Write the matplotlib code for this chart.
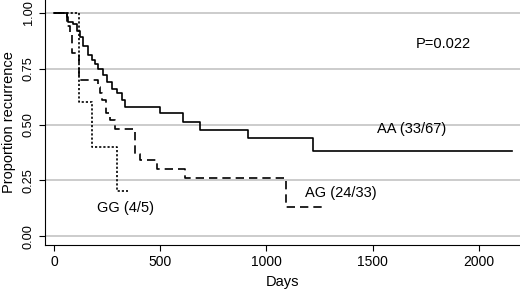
import matplotlib
matplotlib.use('Agg')
import matplotlib.pyplot as plt

plt.rcParams['font.family'] = ['Liberation Sans', 'DejaVu Sans']

# Kaplan-Meier step curves (days, proportion)
aa_days = [0, 61, 66, 89, 108, 122, 136, 160, 179, 193, 207, 231, 250, 273, 296, 320, 334, 499, 607, 687, 913, 1219, 2155]
aa_prop = [1.0, 0.98, 0.96, 0.95, 0.92, 0.89, 0.85, 0.81, 0.79, 0.77, 0.75, 0.72, 0.69, 0.66, 0.64, 0.61, 0.58, 0.55, 0.51, 0.475, 0.44, 0.38, 0.38]

ag_days = [0, 60, 75, 85, 118, 207, 215, 226, 245, 264, 287, 381, 405, 485, 616, 1092, 1275]
ag_prop = [1.0, 0.94, 0.91, 0.82, 0.70, 0.67, 0.64, 0.61, 0.55, 0.52, 0.48, 0.37, 0.34, 0.30, 0.26, 0.13, 0.13]

gg_days = [0, 118, 179, 296, 348]
gg_prop = [1.0, 0.6, 0.4, 0.2, 0.2]

yticks = [0, 0.25, 0.5, 0.75, 1.0]
ytick_labels = ['0.00', '0.25', '0.50', '0.75', '1.00']
xticks = [0, 500, 1000, 1500, 2000]

fig = plt.figure(figsize=(5.2, 2.91), dpi=100)
ax = fig.add_axes([0.0865, 0.158, 0.9135, 0.842])

for y in yticks:
    ax.axhline(y, color='#c4c4c4', lw=1.2, zorder=0)

ax.step(aa_days, aa_prop, where='post', color='black', lw=1.2)
ax.step(ag_days, ag_prop, where='post', color='black', lw=1.2, linestyle=(0, (5, 3)))
ax.step(gg_days, gg_prop, where='post', color='black', lw=1.2, linestyle=(0, (1.3, 1.2)))

ax.set_xlim(-42, 2193)
ax.set_ylim(-0.04, 1.058)
ax.set_yticks(yticks)
ax.set_yticklabels(ytick_labels, rotation=90, va='center', fontsize=9.2)
ax.set_xticks(xticks)
ax.tick_params(axis='x', labelsize=10, length=4, direction='out')
ax.tick_params(axis='y', length=4, direction='out')
ax.spines['top'].set_visible(False)
ax.spines['right'].set_visible(False)

ax.set_xlabel('Days', fontsize=10.5)
ax.set_ylabel('Proportion recurrence', fontsize=10.5, labelpad=5)

ax.text(1830, 0.86, 'P=0.022', fontsize=10.5, ha='center', va='center')
ax.text(1520, 0.48, 'AA (33/67)', fontsize=10.5, ha='left', va='center')
ax.text(1180, 0.195, 'AG (24/33)', fontsize=10.5, ha='left', va='center')
ax.text(205, 0.125, 'GG (4/5)', fontsize=10.5, ha='left', va='center')

fig.savefig('out.png', dpi=100)
